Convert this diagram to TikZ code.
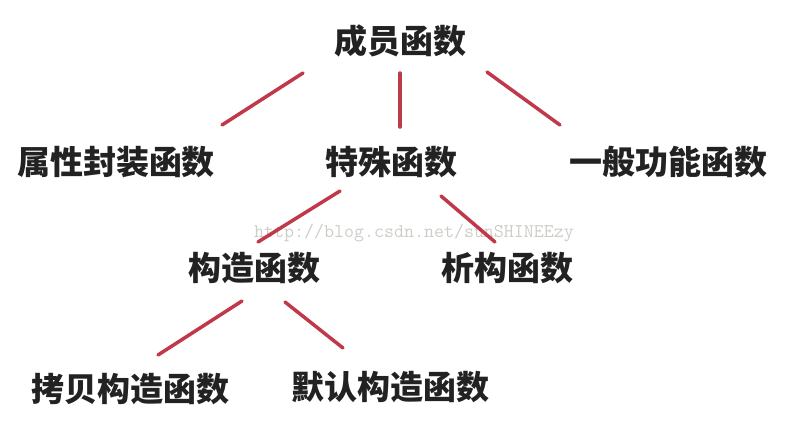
\documentclass[tikz,border=0pt]{standalone}
\usepackage{fontspec}
\newfontfamily\cjk{Noto Sans CJK SC}
\definecolor{txt}{RGB}{34,34,34}
\definecolor{edge}{RGB}{192,57,75}
\definecolor{wm}{RGB}{205,205,200}
\tikzset{
  lbl/.style={inner sep=0pt, text=txt, font=\cjk\bfseries\fontsize{33}{33}\selectfont},
  conn/.style={draw=edge, line width=3.5pt, line cap=round},
  wmark/.style={inner sep=0pt, text=wm, anchor=base west, font=\ttfamily\fontsize{19.4}{19.4}\selectfont}
}
\begin{document}
\begin{tikzpicture}[x=1pt,y=-1pt]
\useasboundingbox (0,0) rectangle (809,440);
\node[wmark] (wm) at (254,237) {http://blog.csdn.net/sunSHINEEzy};
\node[lbl] (root) at (400,41) {成员函数};
\node[lbl] (prop) at (116,162) {属性封装函数};
\node[lbl] (spec) at (391,162) {特殊函数};
\node[lbl] (gen) at (668,162) {一般功能函数};
\node[lbl] (ctor) at (254,268) {构造函数};
\node[lbl] (dtor) at (507,268) {析构函数};
\node[lbl] (copy) at (130,389) {拷贝构造函数};
\node[lbl] (dflt) at (390,387) {默认构造函数};
% connector end points
\coordinate (r1) at (303,73);  \coordinate (p1) at (222,125);
\coordinate (r2) at (400,73);  \coordinate (s1) at (400,127);
\coordinate (r3) at (487,72);  \coordinate (g1) at (560,125);
\coordinate (s2) at (340,191); \coordinate (c1) at (258,242);
\coordinate (s3) at (441,196); \coordinate (d1) at (495,242);
\coordinate (c2) at (242,301); \coordinate (k1) at (158,355);
\coordinate (c3) at (285,302); \coordinate (f1) at (343,348);
\draw[conn] (r1) -- (p1);
\draw[conn] (r2) -- (s1);
\draw[conn] (r3) -- (g1);
\draw[conn] (s2) -- (c1);
\draw[conn] (s3) -- (d1);
\draw[conn] (c2) -- (k1);
\draw[conn] (c3) -- (f1);
\end{tikzpicture}
\end{document}
